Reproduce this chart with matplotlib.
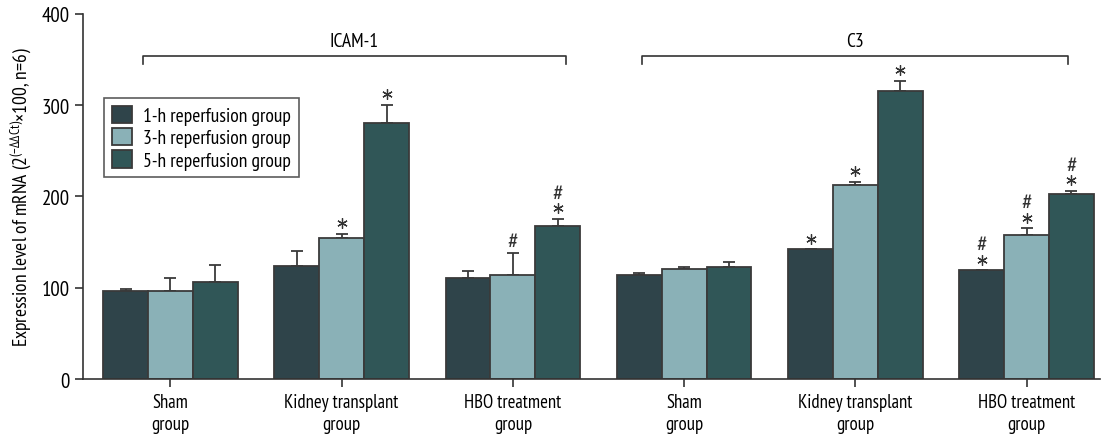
import numpy as np
import matplotlib.pyplot as plt

# group labels and series
groups = ['Sham\ngroup', 'Kidney transplant\ngroup', 'HBO treatment\ngroup',
          'Sham\ngroup', 'Kidney transplant\ngroup', 'HBO treatment\ngroup']
series = ['1-h reperfusion group', '3-h reperfusion group', '5-h reperfusion group']

h1 = [97, 124, 111, 114, 142, 119]
h3 = [97, 155, 114, 121, 213, 158]
h5 = [106, 280, 168, 123, 316, 203]

h1_err = [1.5, 16, 7, 2, 0, 0]
h3_err = [14, 4, 24, 1.5, 3, 7]
h5_err = [19, 20, 7, 5.5, 10, 3]

# significance marks (bottom to top)
h1_sig = ['', '', '', '', '*', '*#']
h3_sig = ['', '*', '#', '', '*', '*#']
h5_sig = ['', '*', '*#', '', '*', '*#']

colors = ['#2f444a', '#8ab1b7', '#305657']

plt.rcParams['font.family'] = ['PT Sans Narrow', 'DejaVu Sans']
plt.rcParams['mathtext.fontset'] = 'custom'
plt.rcParams['mathtext.rm'] = 'PT Sans Narrow'
plt.rcParams['mathtext.it'] = 'PT Sans Narrow'

fig = plt.figure(figsize=(11.08, 4.35), dpi=100)
ax = fig.add_axes([0.075, 0.126, 0.918, 0.84])

x = np.arange(len(groups))
w = 0.262
vals = [h1, h3, h5]
errs = [h1_err, h3_err, h5_err]
sigs = [h1_sig, h3_sig, h5_sig]

for i in range(3):
    xs = x + (i - 1) * w
    ax.bar(xs, vals[i], w, color=colors[i], edgecolor='#3a3a3a', linewidth=1.3,
           label=series[i], zorder=2)
    e = np.array(errs[i])
    ax.errorbar(xs, vals[i], yerr=[np.zeros_like(e), e], fmt='none',
                ecolor='#3a3a3a', elinewidth=1.3, capsize=4.3, capthick=1.3, zorder=1)
    for j in range(len(groups)):
        top = vals[i][j] + errs[i][j]
        for k, s in enumerate(sigs[i][j]):
            if s == '*':
                ax.plot(xs[j], top + 12 + k * 15, marker=(6, 2, 0), ms=7.5,
                        mew=0.9, color='#333333', zorder=3)
            else:
                ax.text(xs[j], top + 12 + k * 15, s, ha='center', va='center',
                        fontsize=17, color='#333333')

# brackets for gene names
def bracket(x0, x1, label):
    ax.plot([x0, x0, x1, x1], [345, 354, 354, 345], color='#333333', lw=1.2,
            clip_on=False)
    ax.text((x0 + x1) / 2, 360, label, ha='center', va='bottom', fontsize=14)

bracket(-0.163, 2.31, 'ICAM-1')
bracket(2.756, 5.24, 'C3')

ax.set_xlim(-0.51, 5.43)
ax.set_ylim(0, 400)
ax.set_yticks([0, 100, 200, 300, 400])
ax.set_xticks(x)
ax.set_xticklabels(groups, fontsize=13.5, linespacing=1.3)
ax.tick_params(axis='y', labelsize=15, length=6, width=1.2, color='#333333')
ax.tick_params(axis='x', length=6, width=1.2, color='#333333', pad=4)
for s in ['top', 'right']:
    ax.spines[s].set_visible(False)
for s in ['left', 'bottom']:
    ax.spines[s].set_linewidth(1.2)
    ax.spines[s].set_color('#333333')

ax.set_ylabel(r'Expression level of mRNA (2$^{(-\Delta\Delta \mathrm{Ct})}$$\times$100, n=6)',
              fontsize=14, labelpad=6)

leg = ax.legend(loc='upper left', bbox_to_anchor=(0.021, 0.77), fontsize=14,
                frameon=True, fancybox=False, edgecolor='#333333',
                handlelength=1.0, handleheight=1.0, handletextpad=0.6,
                labelspacing=0.15, borderpad=0.4, borderaxespad=0)
leg.get_frame().set_linewidth(1.2)

fig.savefig('out.png', dpi=100)
